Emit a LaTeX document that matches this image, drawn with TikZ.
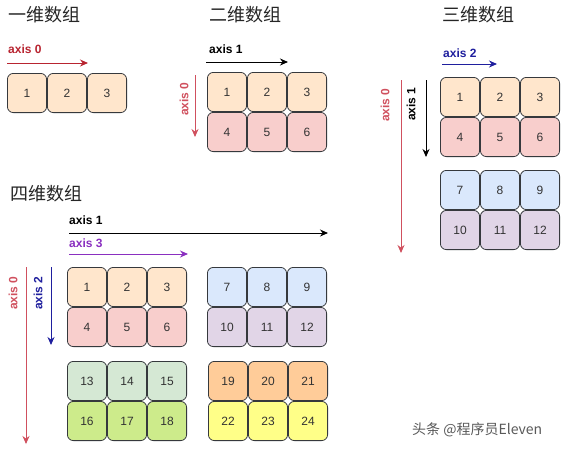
\documentclass[tikz,border=0pt]{standalone}
\usepackage{fontspec}
\setmainfont{Liberation Sans}
\newfontfamily\cjk{Noto Sans CJK SC}
\usetikzlibrary{arrows.meta}
\definecolor{cellborder}{HTML}{36393D}
\definecolor{cA}{HTML}{FFE6CC}
\definecolor{cB}{HTML}{F8CECC}
\definecolor{cC}{HTML}{DAE8FC}
\definecolor{cD}{HTML}{E1D5E7}
\definecolor{cE}{HTML}{D5E8D4}
\definecolor{cF}{HTML}{CDEB8B}
\definecolor{cG}{HTML}{FFCC99}
\definecolor{cH}{HTML}{FFFF88}
\definecolor{redA}{HTML}{B82430}
\definecolor{redB}{HTML}{D0505E}
\definecolor{blueax}{HTML}{1F1F9E}
\definecolor{purpax}{HTML}{8A2FC0}
\definecolor{numtxt}{HTML}{333333}
\tikzset{
  cell/.style={draw=cellborder, line width=0.8pt, rounded corners=6pt,
    minimum width=39.2pt, minimum height=39.2pt, inner sep=0pt,
    font=\fontsize{12}{14}\selectfont, text=numtxt},
  axlabel/.style={font=\fontsize{12}{14}\selectfont\bfseries, inner sep=0pt},
  axarrow/.style={line width=1pt, -{Stealth[length=8pt,width=7pt]}},
  title/.style={font=\cjk\fontsize{18}{20}\selectfont, text=black!85, inner sep=0pt, anchor=west}
}
\begin{document}
\begin{tikzpicture}[x=1pt,y=-1pt]
\useasboundingbox (0,0) rectangle (561,453);
\fill[white] (0,0) rectangle (561,453);
% titles
\node[title] (t1) at (8,15) {一维数组};
\node[title] (t2) at (209,15) {二维数组};
\node[title] (t3) at (442,15) {三维数组};
\node[title] (t4) at (10,194) {四维数组};
% 1D
\foreach \n/\x in {1/27,2/67,3/107}
  \node[cell, fill=cA] (o\n) at (\x,93) {\n};
\coordinate (o0s) at (7,63); \coordinate (o0e) at (88,63);
\draw[axarrow, redA] (o0s) -- (o0e);
\node[axlabel, text=redA, anchor=west] (o0l) at (8,49) {axis 0};
% 2D
\foreach \n/\x/\y/\c in {1/227/92/cA,2/267/92/cA,3/307/92/cA,4/227/132/cB,5/267/132/cB,6/307/132/cB}
  \node[cell, fill=\c] (d\n) at (\x,\y) {\n};
\coordinate (d1s) at (206,62); \coordinate (d1e) at (288,62);
\draw[axarrow, black] (d1s) -- (d1e);
\node[axlabel, anchor=west] (d1l) at (209,49) {axis 1};
\coordinate (d0s) at (195,75); \coordinate (d0e) at (195,137);
\draw[axarrow, redB] (d0s) -- (d0e);
\node[axlabel, text=redB, rotate=90] (d0l) at (184,99) {axis 0};
% 3D
\foreach \n/\x/\y/\c in {1/460/97/cA,2/500/97/cA,3/540/97/cA,4/460/137/cB,5/500/137/cB,6/540/137/cB,
  7/460/190/cC,8/500/190/cC,9/540/190/cC,10/460/230/cD,11/500/230/cD,12/540/230/cD}
  \node[cell, fill=\c] (h\n) at (\x,\y) {\n};
\coordinate (h2s) at (442,64); \coordinate (h2e) at (497,64);
\draw[axarrow, blueax] (h2s) -- (h2e);
\node[axlabel, text=blueax, anchor=west] (h2l) at (443,53) {axis 2};
\coordinate (h0s) at (401,80); \coordinate (h0e) at (401,253);
\draw[axarrow, redB] (h0s) -- (h0e);
\node[axlabel, text=redB, rotate=90] (h0l) at (385,105) {axis 0};
\coordinate (h1s) at (426,80); \coordinate (h1e) at (426,157);
\draw[axarrow, black] (h1s) -- (h1e);
\node[axlabel, rotate=90] (h1l) at (411,104) {axis 1};
% 4D
\foreach \n/\x/\y/\c in {1/87/287/cA,2/127/287/cA,3/167/287/cA,4/87/327/cB,5/127/327/cB,6/167/327/cB,
  7/227/287/cC,8/267/287/cC,9/307/287/cC,10/227/327/cD,11/267/327/cD,12/307/327/cD,
  13/87/381/cE,14/127/381/cE,15/167/381/cE,16/87/421/cF,17/127/421/cF,18/167/421/cF,
  19/228/381/cG,20/268/381/cG,21/308/381/cG,22/228/421/cH,23/268/421/cH,24/308/421/cH}
  \node[cell, fill=\c] (q\n) at (\x,\y) {\n};
\coordinate (q1s) at (69,233); \coordinate (q1e) at (328,233);
\draw[axarrow, black] (q1s) -- (q1e);
\node[axlabel, anchor=west] (q1l) at (69,220) {axis 1};
\coordinate (q3s) at (69,254); \coordinate (q3e) at (188,254);
\draw[axarrow, purpax] (q3s) -- (q3e);
\node[axlabel, text=purpax, anchor=west] (q3l) at (69,243) {axis 3};
\coordinate (q0s) at (26,267); \coordinate (q0e) at (26,444);
\draw[axarrow, redB] (q0s) -- (q0e);
\node[axlabel, text=redB, rotate=90] (q0l) at (13,293) {axis 0};
\coordinate (q2s) at (51,267); \coordinate (q2e) at (51,345);
\draw[axarrow, blueax] (q2s) -- (q2e);
\node[axlabel, text=blueax, rotate=90] (q2l) at (38,293) {axis 2};
% watermark
\node[font=\cjk\fontsize{14}{16}\selectfont, text=black!65, inner sep=0pt, anchor=west] (wm) at (412,430) {头条 @程序员Eleven};
\end{tikzpicture}
\end{document}
